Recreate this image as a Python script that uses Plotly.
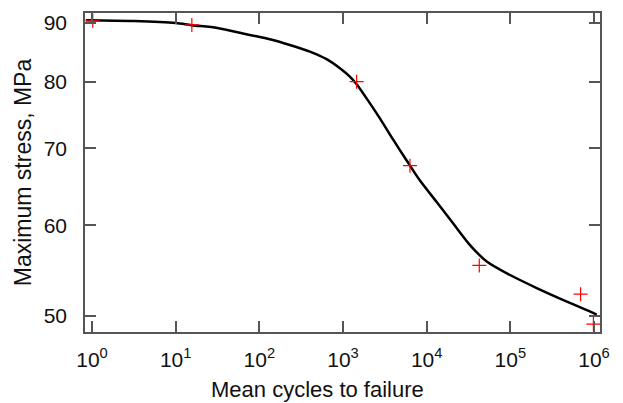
import plotly.graph_objects as go

# Fitted curve
curve_x = [0.841, 3.16, 10, 15.5, 31.6, 76.9, 133.7, 231.7, 401.8, 636.8, 918.3,
           1208, 1455, 1914, 2761, 3981, 5768, 8318, 13183, 20797, 32961, 52240,
           99300, 207000, 430500, 820300, 1079000]
curve_y = [90.5, 90.36, 90.0, 89.6, 89.1, 87.86, 87.1, 86.1, 84.97, 83.69, 82.18,
           80.81, 79.59, 77.37, 74.33, 71.22, 68.30, 65.61, 62.84, 60.19, 57.65, 55.78,
           54.29, 52.89, 51.63, 50.60, 50.15]

# Experimental points
data_x = [1.02, 15.6, 1455, 6310, 42560, 691800, 984000]
data_y = [90.4, 89.65, 80.0, 67.6, 55.35, 52.24, 49.2]

x_tickvals = [1, 10, 100, 1000, 10000, 100000, 1000000]
x_ticktext = ["10<sup>0</sup>", "10<sup>1</sup>", "10<sup>2</sup>", "10<sup>3</sup>",
              "10<sup>4</sup>", "10<sup>5</sup>", "10<sup>6</sup>"]
y_tickvals = [50, 60, 70, 80, 90]
y_ticktext = ["50", "60", "70", "80", "90"]

x_title = "Mean cycles to failure"
y_title = "Maximum stress, MPa"

FONT = "Liberation Sans, Arial, sans-serif"

fig = go.Figure()
fig.add_trace(go.Scatter(x=curve_x, y=curve_y, mode="lines",
                         line=dict(color="black", width=2.5, shape="spline", smoothing=0.8),
                         showlegend=False))
fig.add_trace(go.Scatter(x=data_x, y=data_y, mode="markers",
                         marker=dict(symbol="cross-thin", size=10,
                                     line=dict(color="red", width=1.2)),
                         showlegend=False))

axis_common = dict(showgrid=False, zeroline=False, showline=True, linecolor="#555",
                   linewidth=1.5, ticks="inside", tickcolor="#555", tickwidth=1.5,
                   mirror="allticks", ticklen=11, automargin=False,
                   tickfont=dict(family=FONT, size=21, color="#111"))

fig.update_xaxes(type="log", range=[-0.084, 6.072], tickvals=x_tickvals,
                 ticktext=x_ticktext, ticklabelstandoff=8, **axis_common)
fig.update_yaxes(type="log", range=[1.6851, 1.9629], tickvals=y_tickvals,
                 ticktext=y_ticktext, ticklabelstandoff=12,
                 title=dict(text=y_title, standoff=6,
                            font=dict(family=FONT, size=23, color="#111")),
                 **axis_common)

# x-axis title sits slightly left of centre in the reference
fig.add_annotation(text=x_title, xref="paper", yref="paper", x=0.452, y=-0.179,
                   xanchor="center", yanchor="middle", showarrow=False,
                   font=dict(family=FONT, size=22, color="#111"))

# page body has an 8px margin, so the figure is 8px smaller than the window
fig.update_layout(width=615, height=395, margin=dict(l=77, r=23, t=5, b=71),
                  paper_bgcolor="white", plot_bgcolor="white")
fig.write_html("out.html")
